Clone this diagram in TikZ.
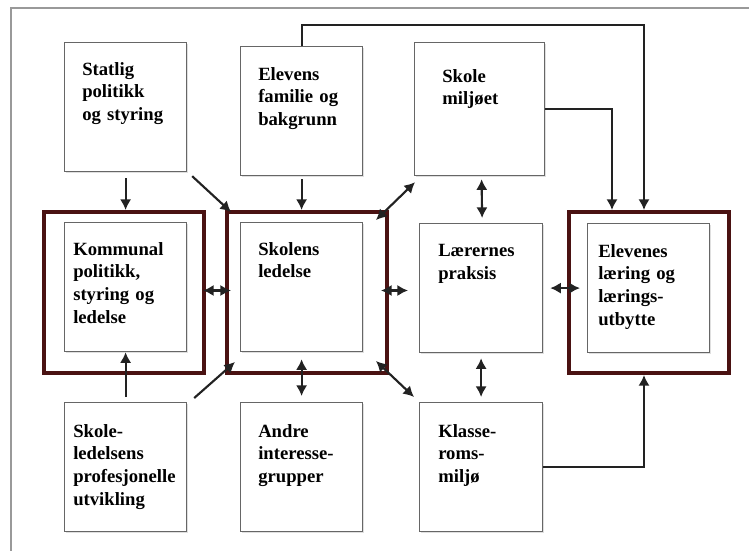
\documentclass[tikz,border=0pt]{standalone}
\usepackage{fontspec}
\setmainfont{Liberation Serif}
\usetikzlibrary{arrows.meta,shadows}
\definecolor{rammefarge}{HTML}{4A1212}
\definecolor{pilfarge}{HTML}{222222}
\tikzset{
  boks/.style={draw=black!60, line width=0.9pt, fill=white, minimum height=129*0.75pt,
    inner sep=0pt, drop shadow={opacity=0.25, shadow xshift=1pt, shadow yshift=-1pt}},
  ramme/.style={draw=rammefarge, line width=3pt, minimum width=160*0.75pt,
    minimum height=161*0.75pt, inner sep=0pt, anchor=north west},
  txt/.style={anchor=north west, inner sep=0pt, align=left, text width=115*0.75pt,
    font=\fontsize{14}{17}\selectfont\bfseries},
  pil/.style={draw=pilfarge, line width=1.6pt, -{Latex[length=8pt,width=8.5pt]}},
  dpil/.style={draw=pilfarge, line width=1.6pt, {Latex[length=8pt,width=8.5pt]}-{Latex[length=8pt,width=8.5pt]}},
}
% box: name, x, y, width, text dx, text dy, text
\newcommand{\boks}[7]{%
  \node[boks, minimum width=#4*0.75pt, anchor=north west] (#1) at (#2,#3) {};
  \node[txt] (#1-t) at ([shift={(#5,#6)}]#1.north west) {#7};}

\begin{document}
\begin{tikzpicture}[x=0.75pt,y=-0.75pt]
  \useasboundingbox (0,0) rectangle (749,551);
  \draw[black!40, line width=1.2pt] (749,8) -- (11,8) -- (11,551);

  % thick frames
  \node[ramme] (kommunalR) at (42,210) {};
  \node[ramme] (skolensR) at (225,210) {};
  \node[ramme] (elevenesR) at (567,210) {};

  % top row
  \boks{statlig}{64}{42}{122}{18}{20}{Statlig\\politikk\\og styring}
  \boks{familie}{240}{46}{122}{18}{21}{Elevens\\familie og\\bakgrunn}
  \node[boks, minimum width=130*0.75pt, minimum height=133*0.75pt, anchor=north west] (miljoet) at (414,42) {};
  \node[txt] (miljoet-t) at ([shift={(28,27)}]miljoet.north west) {Skole\\milj\o et};

  % middle row
  \boks{kommunal}{64}{222}{122}{9}{20}{Kommunal\\politikk,\\styring og\\ledelse}
  \boks{skolens}{240}{222}{122}{18}{20}{Skolens\\ledelse}
  \boks{laerernes}{419}{223}{123}{19}{21}{L\ae rernes\\praksis}
  \boks{elevenes}{587}{223}{122}{11}{21}{Elevenes\\l\ae ring og\\l\ae rings-\\utbytte}

  % bottom row
  \boks{skoleled}{64}{402}{122}{9}{22}{Skole-\\ledelsens\\profesjonelle\\utvikling}
  \boks{andre}{240}{402}{122}{18}{22}{Andre\\interesse-\\grupper}
  \boks{klasse}{419}{402}{123}{19}{22}{Klasse-\\roms-\\milj\o}

  % arrows
  \draw[pil] ([shift={(0,6)}]statlig.south) -- (statlig.south |- kommunalR.north);
  \draw[pil] ([shift={(5,4)}]statlig.south east) -- ([shift={(6,2)}]skolensR.north west);
  \draw[pil] ([shift={(0,3)}]familie.south) -- (familie.south |- skolensR.north);
  \draw[pil] (familie.north) -- ++(0,-21) -| ([xshift=-3.75pt]elevenesR.north);
  \draw[pil] (miljoet.east) -| ([xshift=45*0.75pt]elevenesR.north west);
  \draw[dpil] ([shift={(1,6)}]miljoet.south west) -- ([shift={(-13,10)}]skolensR.north east);
  \draw[dpil] ([shift={(2,3)}]miljoet.south) -- ([shift={(1,-5)}]laerernes.north);
  \draw[dpil] ([shift={(-3,-2)}]kommunalR.east) -- ([shift={(6,-2)}]skolensR.west);
  \draw[dpil] ([shift={(-8,-2)}]skolensR.east) -- ([shift={(-11,-2)}]skolensR.east -| laerernes.west);
  \draw[dpil] ([shift={(7,0)}]laerernes.east) -- ([shift={(13,0)}]laerernes.east -| elevenesR.west);
  \draw[pil] ([shift={(0,-5)}]skoleled.north) -- (kommunal.south);
  \draw[pil] ([shift={(7,-4)}]skoleled.north east) -- ([shift={(10,-13)}]skolensR.south west);
  \draw[dpil] ([shift={(0,-6)}]andre.north) -- ([shift={(0,7)}]skolens.south);
  \draw[dpil] ([shift={(-5,-5)}]klasse.north west) -- ([shift={(-13,-14)}]skolensR.south east);
  \draw[dpil] ([shift={(0,5)}]laerernes.south) -- ([shift={(0,-5)}]klasse.north);
  \draw[pil] (klasse.east) -| ([xshift=-3.75pt]elevenesR.south);
\end{tikzpicture}
\end{document}
